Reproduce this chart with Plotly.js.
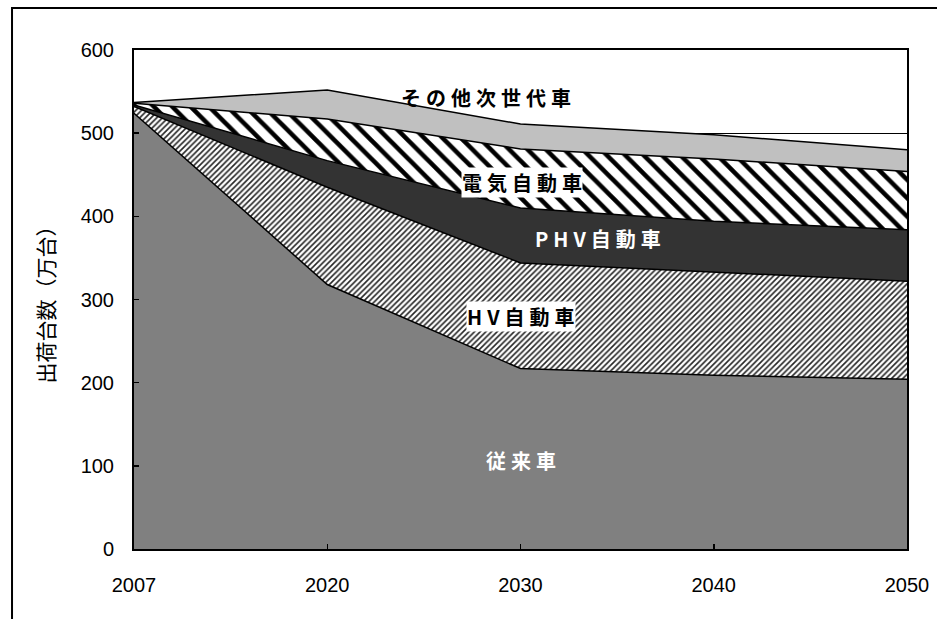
<!DOCTYPE html>
<html>
<head>
<meta charset="utf-8">
<script src="https://cdn.plot.ly/plotly-3.0.1.min.js"></script>
<style>
  html, body { margin: 0; padding: 0; background: #fff; }
  #chart { width: 937px; height: 619px; }
</style>
</head>
<body>
<div id="chart"></div>
<script>
// Shipments by vehicle type (万台), stacked from the bottom up
const years = ['2007', '2020', '2030', '2040', '2050'];
const conventional = [524, 318, 217, 209, 204];
const hybrid = [8, 117, 127, 124, 118];
const plugInHybrid = [2, 32, 66, 61, 62];
const electric = [2, 50, 71, 75, 70];
const otherNextGen = [1, 35, 30, 29, 26];
const seriesNames = ['従来車', 'HV自動車', 'PHV自動車', '電気自動車', 'その他次世代車'];
const yTickValues = [0, 100, 200, 300, 400, 500, 600];

const jpFont = 'Noto Sans CJK JP, sans-serif';
const numFont = 'Liberation Sans, Arial, sans-serif';
const spaced = s => [...s].join('\u2005');
const edge = { color: '#000', width: 1.5 };

function layer(values, name, fill) {
  const t = {
    x: years, y: values, name: name, type: 'scatter', mode: 'lines',
    stackgroup: 'one', line: edge, hoverinfo: 'skip'
  };
  return Object.assign(t, fill);
}

const traces = [
  layer(conventional, seriesNames[0], { fillcolor: '#808080' }),
  layer(hybrid, seriesNames[1], {
    fillcolor: '#ffffff',
    fillpattern: { shape: '/', size: 4, solidity: 0.4, fgcolor: '#262626', bgcolor: '#ffffff' }
  }),
  layer(plugInHybrid, seriesNames[2], { fillcolor: '#333333' }),
  layer(electric, seriesNames[3], {
    fillcolor: '#ffffff',
    fillpattern: { shape: '\\', size: 13, solidity: 0.35, fgcolor: '#000000', bgcolor: '#ffffff' }
  }),
  layer(otherNextGen, seriesNames[4], { fillcolor: '#c0c0c0' })
];

function label(text, x, y, color, bg) {
  const a = {
    x: x, y: y, xref: 'x', yref: 'y', text: spaced(text), showarrow: false,
    font: { family: jpFont, size: 20, weight: 700, color: color }
  };
  if (bg) { a.bgcolor = bg; a.borderpad = 0; }
  return a;
}

const layout = {
  width: 937, height: 619,
  margin: { l: 134, r: 30, t: 50, b: 70 },
  paper_bgcolor: '#ffffff', plot_bgcolor: '#ffffff',
  showlegend: false,
  xaxis: {
    type: 'category', range: [0, years.length - 1],
    showline: true, mirror: true, linecolor: '#000', linewidth: 2,
    ticks: 'inside', ticklen: 5, tickwidth: 1.5, tickcolor: '#000',
    showgrid: false, zeroline: false,
    ticklabelstandoff: 17,
    tickfont: { family: numFont, size: 20, color: '#000' }
  },
  yaxis: {
    range: [0, 600], tickvals: yTickValues,
    showline: true, mirror: true, linecolor: '#000', linewidth: 2,
    ticks: 'inside', ticklen: 5, tickwidth: 1.5, tickcolor: '#000',
    showgrid: true, gridcolor: '#000', gridwidth: 1, zeroline: false,
    ticklabelstandoff: 14,
    tickfont: { family: numFont, size: 20, color: '#000' },
    title: { text: '出荷台数（万台）', standoff: 20, font: { family: jpFont, size: 21, color: '#000' } }
  },
  annotations: [
    label(seriesNames[4], 1.82, 543, '#000'),
    label(seriesNames[3], 2.01, 441, '#000', '#ffffff'),
    label(seriesNames[2], 2.40, 373, '#ffffff'),
    label(seriesNames[1], 2.00, 280, '#000', '#ffffff'),
    label(seriesNames[0], 2.00, 107, '#ffffff')
  ],
  shapes: [{
    type: 'path', xref: 'paper', yref: 'paper',
    path: 'M -0.1578,-0.2 L -0.1578,1.0842 L 1.06,1.0842',
    line: { color: '#000', width: 2 }
  }]
};

Plotly.newPlot('chart', traces, layout, { staticPlot: true, displayModeBar: false });
</script>
</body>
</html>
